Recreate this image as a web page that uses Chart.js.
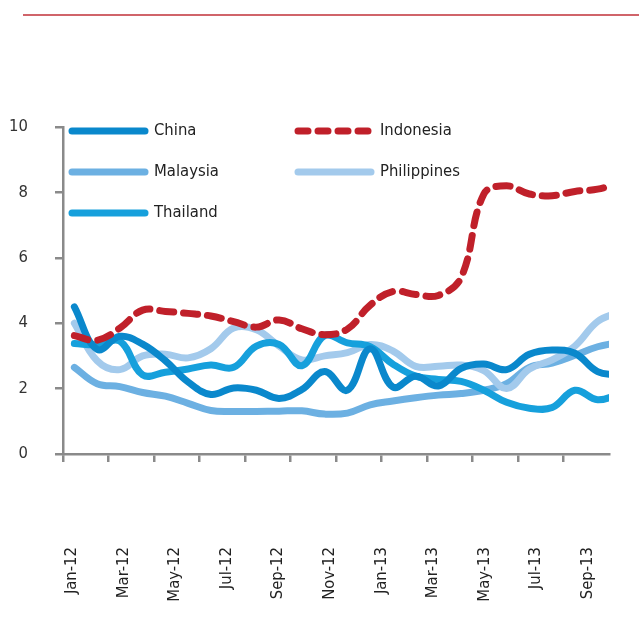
<!DOCTYPE html>
<html><head><meta charset="utf-8">
<script src="https://cdn.jsdelivr.net/npm/chart.js@4.4.1/dist/chart.umd.min.js"></script>
<style>
html,body{margin:0;padding:0;background:#fff;}
#wrap{position:relative;width:639px;height:618px;overflow:hidden;}
#rule{position:absolute;left:23px;top:14px;width:616px;height:2px;background:#d0646a;}
canvas{position:absolute;left:0;top:0;}
</style></head><body>
<div id="wrap"><div id="rule"></div><canvas id="c" width="639" height="618"></canvas></div>
<script>
// Monthly observations, Jan-12 onward (last value lies just past the axis end and is clipped)
const months = ['Jan-12','Feb-12','Mar-12','Apr-12','May-12','Jun-12','Jul-12','Aug-12','Sep-12','Oct-12','Nov-12','Dec-12',
                'Jan-13','Feb-13','Mar-13','Apr-13','May-13','Jun-13','Jul-13','Aug-13','Sep-13','Oct-13','Nov-13','Dec-13','Jan-14'];
const tickLabels = ['Jan-12','Mar-12','May-12','Jul-12','Sep-12','Nov-12','Jan-13','Mar-13','May-13','Jul-13','Sep-13'];
const yTicks = [0,2,4,6,8,10];

const china       = [4.5, 3.2, 3.6, 3.36, 2.85, 2.2, 1.82, 2.02, 1.95, 1.7, 1.97, 2.52, 1.95, 3.22, 2.05, 2.38, 2.08, 2.62, 2.75, 2.58, 3.05, 3.18, 3.08, 2.52, 2.42];
const indonesia   = [3.62, 3.48, 3.85, 4.4, 4.36, 4.3, 4.22, 4.05, 3.88, 4.1, 3.83, 3.65, 3.82, 4.55, 4.97, 4.88, 4.85, 5.4, 7.95, 8.2, 7.95, 7.9, 8.03, 8.1, 8.3];
const malaysia    = [2.65, 2.15, 2.06, 1.88, 1.77, 1.55, 1.33, 1.3, 1.3, 1.31, 1.32, 1.22, 1.25, 1.5, 1.62, 1.72, 1.8, 1.85, 1.95, 2.15, 2.65, 2.78, 3.02, 3.28, 3.42];
const philippines = [4.0, 2.85, 2.58, 3.0, 3.05, 2.94, 3.22, 3.85, 3.8, 3.3, 2.88, 3.0, 3.1, 3.35, 3.15, 2.68, 2.68, 2.72, 2.55, 2.0, 2.6, 2.88, 3.3, 4.05, 4.35];
const thailand    = [3.38, 3.34, 3.45, 2.42, 2.5, 2.6, 2.72, 2.65, 3.3, 3.35, 2.7, 3.62, 3.4, 3.28, 2.75, 2.38, 2.28, 2.22, 1.95, 1.58, 1.4, 1.42, 1.95, 1.66, 1.85];

const FONT = "'DejaVu Sans Condensed','Liberation Sans Narrow',sans-serif";
const FSIZE = 16.5;
const AXIS = '#8a8a8a';
const pts = arr => arr.map((v,i)=>({x:i, y:v}));

const series = [
  {label:'China',       data:china,       color:'#0a88cc', dash:null, order:1, leg:{col:0,row:0}},
  {label:'Indonesia',   data:indonesia,   color:'#c0202a', dash:[14,10], order:0, leg:{col:1,row:0}},
  {label:'Malaysia',    data:malaysia,    color:'#6cb0e2', dash:null, order:4, leg:{col:0,row:1}},
  {label:'Philippines', data:philippines, color:'#a3caec', dash:null, order:3, leg:{col:1,row:1}},
  {label:'Thailand',    data:thailand,    color:'#16a0dc', dash:null, order:2, leg:{col:0,row:2}}
];

const legendPlugin = {
  id:'customLegend',
  afterDraw(chart){
    const ctx = chart.ctx;
    const colX = [{x0:72,x1:145,tx:154},{x0:298,x1:371,tx:380}];
    const rowY = [131,172,213];
    ctx.save();
    chart.data.datasets.forEach(ds=>{
      const c = colX[ds.leg.col], y = rowY[ds.leg.row];
      ctx.beginPath();
      ctx.lineWidth = 7; ctx.lineCap = 'round'; ctx.strokeStyle = ds.borderColor;
      ctx.setLineDash(ds.borderDash && ds.borderDash.length ? [10,10] : []);
      ctx.moveTo(c.x0, y); ctx.lineTo(c.x1, y); ctx.stroke();
      ctx.setLineDash([]);
      ctx.fillStyle = '#222'; ctx.font = FSIZE + 'px ' + FONT;
      ctx.textAlign = 'left'; ctx.textBaseline = 'middle';
      ctx.fillText(ds.label, c.tx, y);
    });
    ctx.restore();
  }
};

const noPad = s => { s.paddingLeft = 0; s.paddingRight = 0; };

new Chart(document.getElementById('c'), {
  type:'line',
  data:{
    datasets: series.map(s=>({
      label:s.label, data:pts(s.data), borderColor:s.color, backgroundColor:s.color,
      borderDash:s.dash||[], borderCapStyle:'round', borderJoinStyle:'round',
      borderWidth:7, pointRadius:0, tension:0.4, fill:false, order:s.order, leg:s.leg
    }))
  },
  options:{
    responsive:false, animation:false, devicePixelRatio:1,
    layout:{padding:{top:127, right:30, left:0, bottom:0}},
    plugins:{legend:{display:false}, tooltip:{enabled:false}},
    scales:{
      x:{type:'linear', position:'bottom', min:-0.5, max:23.5,
         afterBuildTicks:s=>{ s.ticks = []; for(let k=0;k<12;k++) s.ticks.push({value:-0.5+2*k}); },
         afterFit:s=>{ s.height = 8; noPad(s); },
         ticks:{display:false},
         grid:{drawOnChartArea:false, drawTicks:true, tickLength:8, color:AXIS, lineWidth:2.5},
         border:{display:true, color:AXIS, width:2.5}},
      xl:{type:'linear', position:'bottom', min:-0.5, max:23.5,
         afterBuildTicks:s=>{ s.ticks = tickLabels.map((l,k)=>({value:-0.1+2.265*k})); },
         afterFit:s=>{ s.height = 156; noPad(s); },
         ticks:{autoSkip:false, minRotation:90, maxRotation:90, padding:85, color:'#222',
                font:{family:FONT, size:FSIZE}, callback:(v,i)=>tickLabels[i]},
         grid:{display:false, drawTicks:false},
         border:{display:false}},
      y:{type:'linear', min:0, max:10,
         afterBuildTicks:s=>{ s.ticks = yTicks.map(v=>({value:v})); },
         afterFit:s=>{ s.width = 63; s.paddingTop = 0; s.paddingBottom = 0; },
         ticks:{padding:27, color:'#333', font:{family:FONT, size:FSIZE}},
         grid:{drawOnChartArea:false, tickLength:8, color:AXIS, lineWidth:2.5},
         border:{color:AXIS, width:2.5}}
    }
  },
  plugins:[legendPlugin]
});
</script>
</body></html>
